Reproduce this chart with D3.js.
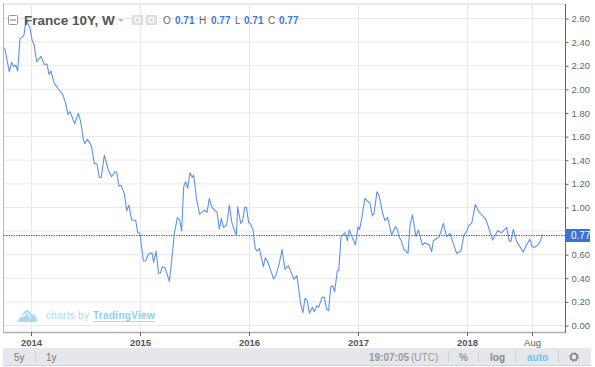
<!DOCTYPE html>
<html><head><meta charset="utf-8">
<script src="https://cdn.jsdelivr.net/npm/d3@7"></script>
<style>html,body{margin:0;padding:0;background:#fff}svg{display:block}text{font-family:"Liberation Sans",Arial,sans-serif}</style>
</head><body><svg id="c" width="595" height="367"></svg>
<script>
const dates=[2013.758,2013.801,2013.823,2013.844,2013.859,2013.878,2013.899,2013.914,2013.936,2013.954,2013.966,2013.991,2014.012,2014.028,2014.052,2014.092,2014.122,2014.147,2014.165,2014.183,2014.214,2014.251,2014.291,2014.318,2014.339,2014.358,2014.401,2014.434,2014.456,2014.480,2014.495,2014.517,2014.554,2014.581,2014.606,2014.627,2014.645,2014.673,2014.709,2014.740,2014.771,2014.786,2014.807,2014.826,2014.856,2014.878,2014.899,2014.924,2014.960,2014.979,2015.000,2015.031,2015.052,2015.076,2015.110,2015.125,2015.147,2015.171,2015.187,2015.205,2015.232,2015.269,2015.291,2015.315,2015.343,2015.364,2015.382,2015.401,2015.419,2015.437,2015.459,2015.480,2015.492,2015.520,2015.547,2015.575,2015.596,2015.615,2015.636,2015.657,2015.688,2015.706,2015.728,2015.746,2015.765,2015.795,2015.820,2015.841,2015.865,2015.884,2015.896,2015.924,2015.942,2015.960,2015.976,2015.997,2016.015,2016.037,2016.058,2016.076,2016.095,2016.132,2016.150,2016.168,2016.193,2016.226,2016.248,2016.278,2016.303,2016.330,2016.361,2016.413,2016.440,2016.474,2016.495,2016.514,2016.535,2016.554,2016.581,2016.599,2016.621,2016.639,2016.670,2016.691,2016.713,2016.731,2016.749,2016.768,2016.786,2016.810,2016.823,2016.844,2016.881,2016.902,2016.920,2016.976,2017.000,2017.015,2017.034,2017.064,2017.083,2017.110,2017.132,2017.147,2017.174,2017.193,2017.226,2017.248,2017.272,2017.309,2017.343,2017.361,2017.379,2017.394,2017.422,2017.459,2017.477,2017.500,2017.532,2017.554,2017.590,2017.615,2017.654,2017.676,2017.691,2017.746,2017.783,2017.813,2017.844,2017.869,2017.905,2017.945,2017.972,2017.997,2018.018,2018.043,2018.076,2018.104,2018.135,2018.174,2018.235,2018.281,2018.318,2018.364,2018.388,2018.404,2018.425,2018.456,2018.517,2018.541,2018.578,2018.596,2018.624,2018.664,2018.694];
const yields=[2.353,2.149,2.228,2.192,2.206,2.155,2.432,2.437,2.460,2.587,2.573,2.516,2.409,2.381,2.234,2.279,2.211,2.214,2.127,2.155,2.050,2.003,1.957,1.881,1.788,1.811,1.709,1.796,1.726,1.576,1.542,1.576,1.523,1.373,1.367,1.252,1.257,1.444,1.317,1.260,1.303,1.297,1.181,1.187,1.119,0.972,1.020,0.893,0.890,0.786,0.780,0.546,0.546,0.603,0.617,0.535,0.631,0.442,0.442,0.498,0.484,0.374,0.555,0.780,0.913,0.893,0.800,1.176,1.218,1.161,1.294,1.255,1.274,1.063,0.941,0.964,0.978,0.958,1.077,1.006,0.970,0.964,0.817,0.907,0.831,0.851,1.020,0.879,0.809,0.766,1.006,0.865,0.888,1.001,1.001,0.871,0.859,0.809,0.648,0.631,0.653,0.498,0.574,0.546,0.484,0.394,0.428,0.526,0.645,0.476,0.507,0.391,0.422,0.182,0.109,0.230,0.210,0.103,0.154,0.117,0.168,0.154,0.238,0.238,0.137,0.126,0.323,0.337,0.286,0.464,0.464,0.752,0.786,0.718,0.809,0.682,0.837,0.814,0.907,1.077,1.057,1.034,0.927,0.950,1.133,1.105,0.950,0.888,0.916,0.766,0.837,0.814,0.747,0.724,0.645,0.611,0.851,0.936,0.752,0.809,0.682,0.701,0.682,0.625,0.718,0.752,0.865,0.752,0.780,0.710,0.611,0.631,0.766,0.795,0.851,0.865,1.026,0.972,0.936,0.899,0.724,0.803,0.786,0.831,0.715,0.715,0.814,0.710,0.622,0.673,0.732,0.668,0.662,0.696,0.770];
const yTicks=[0,0.2,0.4,0.6,0.8,1,1.2,1.4,1.6,1.8,2,2.2,2.4,2.6];
const xTicks=[2014,2015,2016,2017,2018,2018.6];
const xLabels=["2014","2015","2016","2017","2018","Aug"];
const lastPrice=0.77;
const ohlc=[["O","0.71"],["H","0.77"],["L","0.71"],["C","0.77"]];
const title="France 10Y, W";

const svg=d3.select("#c");
const x=d3.scaleLinear().domain([2014,2018]).range([31,467]);
const y=d3.scaleLinear().domain([0,2.6]).range([325.5,18.5]);
const L=3.5,R=565,T=4,B=332;

svg.append("g").selectAll("line").data(yTicks).join("line")
 .attr("x1",L).attr("x2",R).attr("y1",d=>y(d)).attr("y2",d=>y(d)).attr("stroke","#e8e8e8");
svg.append("g").selectAll("line").data(xTicks).join("line")
 .attr("x1",d=>Math.round(x(d))+.5).attr("x2",d=>Math.round(x(d))+.5).attr("y1",T).attr("y2",B).attr("stroke","#e8e8e8");

// frame
svg.append("rect").attr("x",3).attr("y",3).attr("width",562).attr("height",2).attr("fill","#e9e9e9");
svg.append("line").attr("x1",3.5).attr("x2",3.5).attr("y1",3).attr("y2",333).attr("stroke","#b8b8b8");

// price line and last-price marker
svg.append("path").attr("d",d3.line().x((d,i)=>x(dates[i])).y(d=>y(d))(yields))
 .attr("fill","none").attr("stroke","#5f93e6").attr("stroke-width",1.1).attr("stroke-linejoin","round");
svg.append("line").attr("x1",L).attr("x2",R).attr("y1",235.5).attr("y2",235.5)
 .attr("stroke","#3a6cc4").attr("stroke-dasharray","1.5 1");

// axes
const ax=svg.append("g").attr("transform",`translate(0,${B})`)
 .call(d3.axisBottom(x).tickValues(xTicks).tickFormat((d,i)=>xLabels[i]).tickSize(4).tickPadding(3));
ax.select(".domain").attr("d",`M3,0.5H565`).attr("stroke","#b0b0b0").attr("stroke-width",1.5);
ax.selectAll(".tick line").attr("stroke","#666");
ax.selectAll(".tick").attr("transform",d=>`translate(${Math.round(x(d))+.5},0)`);
ax.selectAll("text").attr("fill","#555").attr("font-size",9.5).attr("font-weight",(d,i)=>i<5?"bold":"normal")
 .style("font-family",'"Liberation Sans",Arial,sans-serif');

const ay=svg.append("g").attr("transform",`translate(${R+.5},0)`)
 .call(d3.axisRight(y).tickValues(yTicks).tickFormat(d3.format(".2f")).tickSize(3).tickPadding(3));
ay.select(".domain").attr("d",`M0,4V333`).attr("stroke","#666");
ay.selectAll(".tick line").attr("stroke","#666");
ay.selectAll("text").attr("fill","#666").attr("font-size",9.5).style("font-family",'"Liberation Sans",Arial,sans-serif');

// price tag
svg.append("rect").attr("x",565).attr("y",229).attr("width",25).attr("height",13).attr("fill","#3c72d8");
svg.append("text").attr("x",571).attr("y",239).attr("fill","#fff").attr("font-size",10).text(lastPrice.toFixed(2));

// header
svg.append("rect").attr("x",8.5).attr("y",15.5).attr("width",9).attr("height",9).attr("rx",1).attr("fill","#fff").attr("stroke","#999");
svg.append("line").attr("x1",10).attr("x2",16).attr("y1",20).attr("y2",20).attr("stroke","#777");
svg.append("text").attr("x",24).attr("y",25).attr("font-size",13.5).attr("font-weight","bold").attr("fill","#555").text(title);
svg.append("path").attr("d","M118,19h6l-3,3z").attr("fill","#bbb");
[132,146].forEach(px=>{
 svg.append("rect").attr("x",px).attr("y",15).attr("width",11).attr("height",10).attr("fill","#ddd");
 svg.append("circle").attr("cx",px+5.5).attr("cy",20).attr("r",2.6).attr("fill","none").attr("stroke","#fff").attr("stroke-width",1.2);
});
const lx=[163,199,235,268], vx=[175,211,244,279];
ohlc.forEach((d,i)=>{
 svg.append("text").attr("x",lx[i]).attr("y",24).attr("font-size",10).attr("fill","#666").text(d[0]);
 svg.append("text").attr("x",vx[i]).attr("y",24).attr("font-size",10).attr("font-weight","bold").attr("fill","#3f79d8").text(d[1]);
});

// watermark
svg.append("path").attr("d","M17,322l8-11q2-2,4,0l3,4 2-1 3,5q1,3-2,3z").attr("fill","#a9d9f0");
svg.append("path").attr("d","M22,317l5-4 4,5").attr("fill","none").attr("stroke","#fff").attr("stroke-width",1.2);
svg.append("text").attr("x",46).attr("y",319).attr("font-size",10).attr("fill","#a9d9ef").attr("letter-spacing",.3).text("charts by");
svg.append("text").attr("x",93).attr("y",319).attr("font-size",10).attr("font-weight","bold").attr("fill","#8bd0ef").attr("letter-spacing",.3).text("TradingView");
svg.append("line").attr("x1",93).attr("x2",155).attr("y1",321.5).attr("y2",321.5).attr("stroke","#a9dcf3");

// toolbar
svg.append("rect").attr("x",3).attr("y",348).attr("width",588).attr("height",17).attr("fill","#e4e7eb");
svg.append("rect").attr("x",3).attr("y",365).attr("width",588).attr("height",1).attr("fill","#cfd2d6");
const tb=[["5y",14,"normal","#777"],["1y",46,"normal","#777"],["19:07:05",369,"bold","#999"],["(UTC)",411,"normal","#999"],["%",459,"bold","#999"],["log",490,"bold","#888"],["auto",527,"bold","#6cc5ea"]];
svg.append("g").selectAll("text").data(tb).join("text").attr("x",d=>d[1]).attr("y",361).attr("font-size",10)
 .attr("font-weight",d=>d[2]).attr("fill",d=>d[3]).text(d=>d[0]);
svg.append("g").selectAll("line").data([35.5,448.5,478.5,515.5,558.5]).join("line")
 .attr("x1",d=>d).attr("x2",d=>d).attr("y1",351).attr("y2",362).attr("stroke","#cfd2d6");
svg.append("circle").attr("cx",574).attr("cy",357).attr("r",3.2).attr("fill","none").attr("stroke","#888").attr("stroke-width",1.6);
svg.append("circle").attr("cx",574).attr("cy",357).attr("r",4.4).attr("fill","none").attr("stroke","#888").attr("stroke-width",1).attr("stroke-dasharray","1.5 1.96");
</script></body></html>
